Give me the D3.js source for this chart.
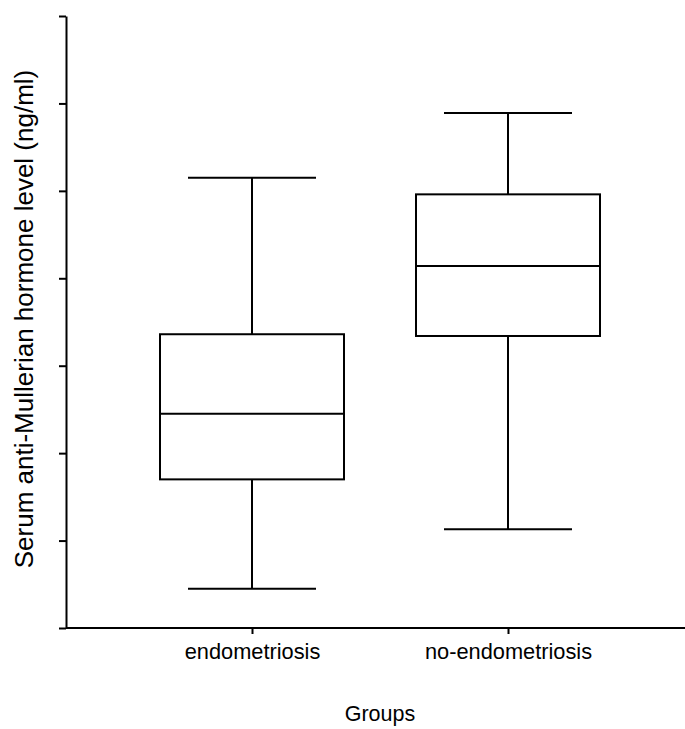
<!DOCTYPE html>
<html>
<head>
<meta charset="utf-8">
<script src="https://cdn.jsdelivr.net/npm/d3@7"></script>
<style>
  html, body { margin: 0; padding: 0; background: #fff; }
  svg { display: block; font-family: "Liberation Sans", Arial, sans-serif; }
</style>
</head>
<body>
<svg id="chart" width="685" height="729"></svg>
<script>
const categories = ["endometriosis", "no-endometriosis"];
const whiskerLow  = [0.45, 1.13];
const q1          = [1.70, 3.34];
const median      = [2.45, 4.14];
const q3          = [3.36, 4.96];
const whiskerHigh = [5.15, 5.89];
const yTicks = [0, 1, 2, 3, 4, 5, 6, 7];

const data = categories.map((c, i) => ({
  cat: c, lo: whiskerLow[i], q1: q1[i], med: median[i], q3: q3[i], hi: whiskerHigh[i]
}));

const svg = d3.select("#chart");
const axisLeftX = 66, axisBottomY = 628;

const y = d3.scaleLinear().domain([0, 7]).range([628, 16]);
const x = d3.scalePoint().domain(categories).range([124, 636]).padding(0.5);
const step = x.step();
const boxW = step * 0.71875;
const capW = step * 0.5;

// Y axis
const yAxis = svg.append("g")
  .attr("transform", `translate(${axisLeftX},0)`)
  .call(d3.axisLeft(y).tickValues(yTicks).tickFormat("").tickSize(7).tickSizeOuter(0));
yAxis.selectAll("path, line").attr("stroke", "#000").attr("stroke-width", 2);

// X axis
const xAxis = svg.append("g")
  .attr("transform", `translate(0,${axisBottomY})`)
  .call(d3.axisBottom(x).tickSize(6).tickSizeOuter(0));
xAxis.select(".domain").remove();
xAxis.append("line")
  .attr("x1", axisLeftX).attr("x2", 685).attr("y1", 0).attr("y2", 0)
  .attr("stroke", "#000").attr("stroke-width", 2);
xAxis.selectAll(".tick line").attr("stroke", "#000").attr("stroke-width", 2);
xAxis.selectAll(".tick text")
  .attr("y", 31).attr("dy", 0)
  .attr("fill", "#000")
  .style("font-size", "21.8px")
  .style("font-family", "'Liberation Sans', Arial, sans-serif");

// Boxes
const g = svg.append("g").attr("fill", "none").attr("stroke", "#000").attr("stroke-width", 2);
const box = g.selectAll("g.box").data(data).join("g").attr("class", "box");

box.append("line") // upper whisker
  .attr("x1", d => x(d.cat)).attr("x2", d => x(d.cat))
  .attr("y1", d => y(d.q3)).attr("y2", d => y(d.hi));
box.append("line") // lower whisker
  .attr("x1", d => x(d.cat)).attr("x2", d => x(d.cat))
  .attr("y1", d => y(d.q1)).attr("y2", d => y(d.lo));
box.append("line") // upper cap
  .attr("x1", d => x(d.cat) - capW / 2).attr("x2", d => x(d.cat) + capW / 2)
  .attr("y1", d => y(d.hi)).attr("y2", d => y(d.hi));
box.append("line") // lower cap
  .attr("x1", d => x(d.cat) - capW / 2).attr("x2", d => x(d.cat) + capW / 2)
  .attr("y1", d => y(d.lo)).attr("y2", d => y(d.lo));
box.append("rect")
  .attr("x", d => x(d.cat) - boxW / 2).attr("width", boxW)
  .attr("y", d => y(d.q3)).attr("height", d => y(d.q1) - y(d.q3))
  .attr("fill", "#fff");
box.append("line") // median
  .attr("x1", d => x(d.cat) - boxW / 2).attr("x2", d => x(d.cat) + boxW / 2)
  .attr("y1", d => y(d.med)).attr("y2", d => y(d.med));

// Axis titles
svg.append("text")
  .attr("x", 380).attr("y", 721)
  .attr("text-anchor", "middle")
  .style("font-size", "21.5px")
  .text("Groups");

svg.append("text")
  .attr("transform", `translate(33,319) rotate(-90)`)
  .attr("text-anchor", "middle")
  .style("font-size", "26px")
  .text("Serum anti-Mullerian hormone level (ng/ml)");
</script>
</body>
</html>
